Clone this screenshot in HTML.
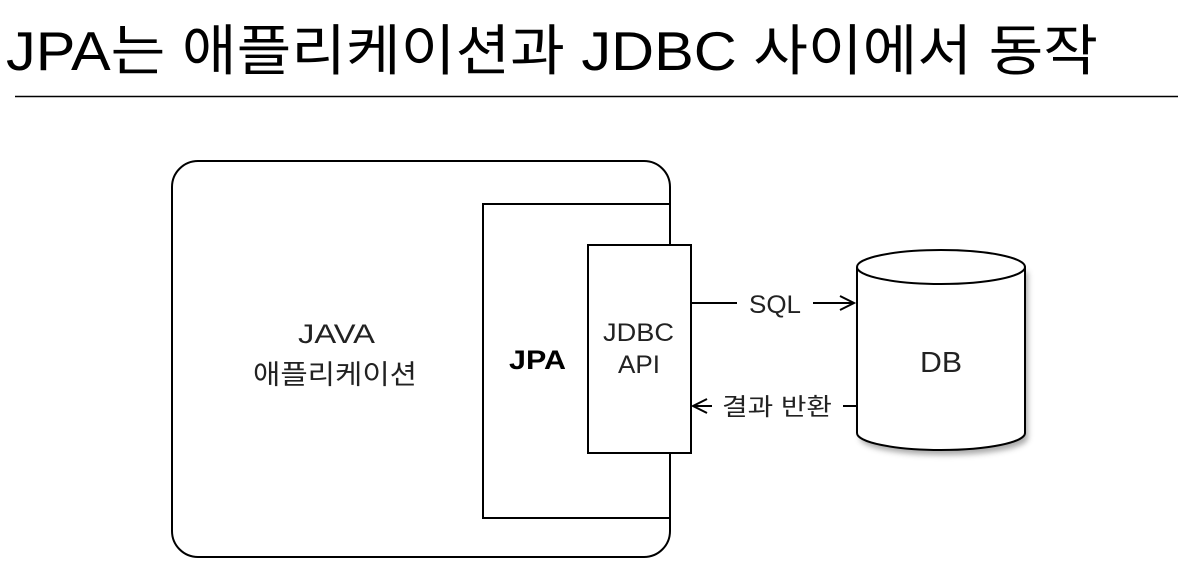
<!DOCTYPE html>
<html><head><meta charset="utf-8"><style>
body{margin:0;background:#fff;width:1178px;height:582px;overflow:hidden}
</style></head><body>
<svg width="1178" height="582" xmlns="http://www.w3.org/2000/svg" font-family="Liberation Sans, Noto Sans CJK KR, sans-serif">
<defs><filter id="sh" x="-20%" y="-20%" width="140%" height="140%"><feGaussianBlur stdDeviation="3"/></filter></defs>
<text x="6" y="70" font-size="55" fill="#000" textLength="1092" lengthAdjust="spacingAndGlyphs">JPA는 애플리케이션과 JDBC 사이에서 동작</text>
<line x1="15" y1="96.5" x2="1178" y2="96.5" stroke="#000" stroke-width="1.5"/>
<rect x="172" y="161" width="498" height="396" rx="26" fill="#fff" stroke="#000" stroke-width="2"/>
<rect x="483" y="204" width="187" height="314" fill="#fff" stroke="#000" stroke-width="2"/>
<rect x="588" y="245" width="103" height="208" fill="#fff" stroke="#000" stroke-width="2"/>
<text x="298" y="343" font-size="27" fill="#222" textLength="77" lengthAdjust="spacingAndGlyphs">JAVA</text>
<text x="253" y="384" font-size="27" fill="#222" textLength="164" lengthAdjust="spacingAndGlyphs">애플리케이션</text>
<text x="509" y="369" font-size="27" font-weight="bold" textLength="57" lengthAdjust="spacingAndGlyphs">JPA</text>
<text x="603" y="341" font-size="25" fill="#222" textLength="71" lengthAdjust="spacingAndGlyphs">JDBC</text>
<text x="618" y="373" font-size="25" fill="#222" textLength="42" lengthAdjust="spacingAndGlyphs">API</text>
<line x1="691" y1="303" x2="737" y2="303" stroke="#000" stroke-width="2"/>
<text x="749" y="313" font-size="25" fill="#222" textLength="52" lengthAdjust="spacingAndGlyphs">SQL</text>
<line x1="813" y1="303" x2="854" y2="303" stroke="#000" stroke-width="2"/>
<polyline points="840,296 854,303 840,310" fill="none" stroke="#000" stroke-width="2"/>
<polyline points="707,399 693,406 707,413" fill="none" stroke="#000" stroke-width="2"/>
<line x1="693" y1="406" x2="712" y2="406" stroke="#000" stroke-width="2"/>
<text x="722" y="415" font-size="24" fill="#222" textLength="110" lengthAdjust="spacingAndGlyphs">결과 반환</text>
<line x1="843" y1="406" x2="858" y2="406" stroke="#000" stroke-width="2"/>
<g transform="translate(3,5)" opacity="0.5" filter="url(#sh)"><path d="M857,267 L857,433 A84,17 0 0 0 1025,433 L1025,267" fill="#555"/></g>
<path d="M857,267 L857,433 A84,17 0 0 0 1025,433 L1025,267" fill="#fff" stroke="#000" stroke-width="2"/>
<ellipse cx="941" cy="267" rx="84" ry="17" fill="#fff" stroke="#000" stroke-width="2"/>
<text x="920" y="372" font-size="29" fill="#222" textLength="42" lengthAdjust="spacingAndGlyphs">DB</text>
</svg>
</body></html>
